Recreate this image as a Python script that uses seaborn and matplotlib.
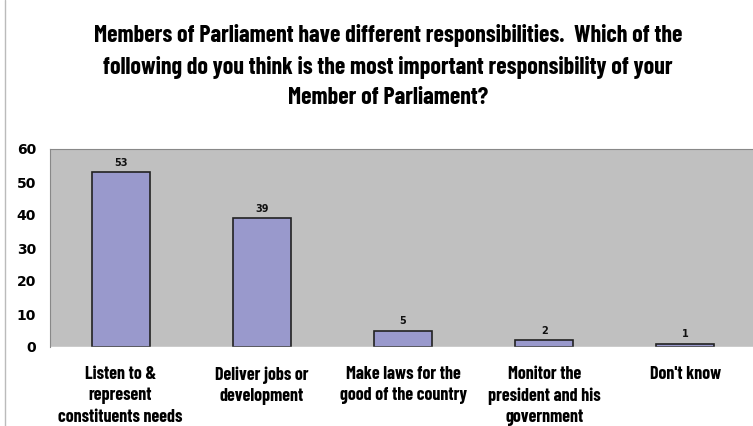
import matplotlib
matplotlib.use("Agg")
import matplotlib.pyplot as plt
import seaborn as sns
import pandas as pd
from matplotlib.lines import Line2D

categories = ["Listen to &\nrepresent\nconstituents needs",
              "Deliver jobs or\ndevelopment",
              "Make laws for the\ngood of the country",
              "Monitor the\npresident and his\ngovernment",
              "Don't know"]
values = [53, 39, 5, 2, 1]
yticks = [0, 10, 20, 30, 40, 50, 60]
title = ("Members of Parliament have different responsibilities.  Which of the\n"
         "following do you think is the most important responsibility of your\n"
         "Member of Parliament?")

sns.set_style("white")
cond = ["Barlow Condensed", "DejaVu Sans"]

fig = plt.figure(figsize=(7.53, 4.26), dpi=100)
ax = fig.add_axes([50/753, 1-347/426, 706/753, 198/426])
df = pd.DataFrame({"cat": categories, "val": values})
sns.barplot(data=df, x="cat", y="val", ax=ax, color="#9999CC", saturation=1,
            width=0.41, edgecolor="#222222", linewidth=1.2)
ax.set_facecolor("#C0C0C0")
ax.set_xlim(-0.5, len(categories)-0.5)
ax.set_ylim(0, 60)
ax.set_yticks(yticks)
ax.set_yticklabels([str(t) for t in yticks], fontsize=10, fontweight="bold",
                   family="DejaVu Sans", color="black")
ax.set_xlabel("")
ax.set_ylabel("")
ax.set_xticks([i - 0.5 for i in range(1, len(categories))], minor=True)
ax.set_xticks(range(len(categories)))
ax.set_xticklabels(categories, fontsize=13, fontweight="bold", family=cond,
                   linespacing=1.31, va="top", color="black")
ax.tick_params(axis="x", which="major", length=0, pad=14)
ax.tick_params(axis="x", which="minor", length=5, color="#BBBBBB", direction="out", width=0.8)
ax.tick_params(axis="y", length=4, color="#888888", direction="out", pad=6)
for s in ["right", "bottom"]:
    ax.spines[s].set_visible(False)
ax.spines["top"].set_color("#888888")
ax.spines["top"].set_linewidth(0.8)
ax.spines["left"].set_color("#888888")
ax.spines["left"].set_linewidth(0.8)
ax.axhline(0, color="white", lw=1)

for i, v in enumerate(values):
    ax.text(i, v + 1.3, str(v), ha="center", va="bottom", fontsize=7,
            fontweight="bold", family=["DejaVu Sans"], color="#111111")

fig.text(388/753, 1-24/426, title, ha="center", va="top", fontsize=17.2,
         fontweight="bold", family=cond, linespacing=1.48, color="black")
fig.add_artist(Line2D([5/753, 5/753], [0, 1], transform=fig.transFigure,
                      color="#BBBBBB", lw=1))
fig.savefig("out.png", dpi=100)
